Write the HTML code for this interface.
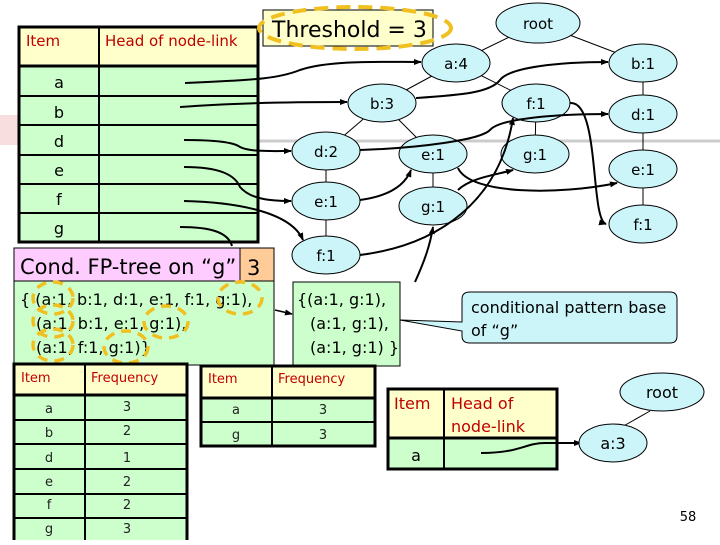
<!DOCTYPE html>
<html><head><meta charset="utf-8"><style>
body{margin:0;background:#fff}
svg text{font-family:"DejaVu Sans","Liberation Sans",sans-serif}
</style></head><body>
<svg width="720" height="540" viewBox="0 0 720 540" xmlns="http://www.w3.org/2000/svg">
<defs><marker id="ar" markerWidth="8" markerHeight="8" refX="7" refY="4" orient="auto" markerUnits="userSpaceOnUse"><path d="M0,1 L8,4 L0,7z" fill="#000"/></marker></defs>
<rect x="0" y="115" width="22" height="30" fill="#f4c8c8" opacity="0.6"/>
<line x1="258" y1="141" x2="720" y2="141" stroke="#ccc" stroke-width="3"/>
<!-- main table -->
<g stroke="#000" stroke-width="3">
<rect x="19" y="27" width="239" height="39" fill="#ffffcc"/>
<rect x="19" y="66" width="239" height="176" fill="#ccffcc"/>
</g>
<g stroke="#000" stroke-width="2">
<line x1="99" y1="27" x2="99" y2="242"/>
<line x1="19" y1="96" x2="258" y2="96"/><line x1="19" y1="125" x2="258" y2="125"/>
<line x1="19" y1="155" x2="258" y2="155"/><line x1="19" y1="184" x2="258" y2="184"/>
<line x1="19" y1="213" x2="258" y2="213"/>
</g>
<g font-size="15" fill="#c00000"><text x="26" y="46">Item</text><text x="105" y="46">Head of node-link</text></g>
<g font-size="16" text-anchor="middle"><text x="59" y="88">a</text><text x="59" y="118">b</text><text x="59" y="147">d</text><text x="59" y="176">e</text><text x="59" y="205">f</text><text x="59" y="234">g</text></g>
<!-- threshold -->
<rect x="263" y="10" width="170" height="36" fill="#ffffcc" stroke="#000"/>
<text x="272" y="37" font-size="22">Threshold = 3</text>
<ellipse cx="355" cy="28" rx="96" ry="21" fill="none" stroke="#f0c020" stroke-width="4" stroke-dasharray="14 8"/>
<!-- tree edges -->
<g stroke="#000" stroke-width="1" fill="none">
<path d="M538,23 L456,63 M538,23 L643,63 M456,63 L382,103 M456,63 L536,103 M382,103 L326,151 M382,103 L433,154 M326,151 L326,255 M433,154 L433,206 M536,103 L535,154 M643,63 L643,224"/>
</g>
<!-- nodes -->
<g fill="#ccf5fa" stroke="#000" stroke-width="1">
<ellipse cx="538" cy="23" rx="42" ry="20"/>
<ellipse cx="456" cy="63" rx="34" ry="19"/><ellipse cx="643" cy="63" rx="34" ry="19"/>
<ellipse cx="382" cy="103" rx="34" ry="19"/><ellipse cx="536" cy="103" rx="34" ry="19"/>
<ellipse cx="643" cy="114" rx="34" ry="19"/><ellipse cx="326" cy="151" rx="34" ry="19"/>
<ellipse cx="433" cy="154" rx="34" ry="19"/><ellipse cx="535" cy="154" rx="34" ry="19"/>
<ellipse cx="643" cy="169" rx="34" ry="19"/><ellipse cx="326" cy="201" rx="34" ry="19"/>
<ellipse cx="433" cy="206" rx="34" ry="19"/><ellipse cx="643" cy="224" rx="34" ry="19"/>
<ellipse cx="326" cy="255" rx="34" ry="19"/>
</g>
<g font-size="15" text-anchor="middle">
<text x="538" y="29">root</text><text x="456" y="69">a:4</text><text x="643" y="69">b:1</text>
<text x="382" y="109">b:3</text><text x="536" y="109">f:1</text><text x="643" y="120">d:1</text>
<text x="326" y="157">d:2</text><text x="433" y="160">e:1</text><text x="535" y="160">g:1</text>
<text x="643" y="175">e:1</text><text x="326" y="207">e:1</text><text x="433" y="212">g:1</text>
<text x="643" y="230">f:1</text><text x="326" y="261">f:1</text>
</g>
<!-- node links -->
<g stroke="#000" stroke-width="2" fill="none" marker-end="url(#ar)">
<path d="M185,83 C260,80 280,78 300,70 C330,60 380,62 421,62"/>
<path d="M180,107 C230,103 300,102 347,102"/>
<path d="M184,140 C220,140 235,143 240,147 C250,152 270,151 291,151"/>
<path d="M184,167 C220,167 235,175 240,187 C250,199 270,201 291,201"/>
<path d="M184,201 C230,202 290,210 303,240"/>
<path d="M416,98 C460,95 490,93 500,80 C510,67 560,62 608,62"/>
<path d="M360,150 C420,148 480,140 490,130 C500,118 560,114 608,114"/>
<path d="M360,200 C390,196 405,185 411,170"/>
<path d="M360,255 C440,245 500,200 513,118"/>
<path d="M458,168 C470,195 560,195 617,183"/>
<path d="M458,190 C470,178 495,175 513,170"/>
<path d="M570,103 C600,100 590,220 606,224"/>
<path d="M415,282 C425,260 430,245 433,227"/>
</g>
<path d="M180,227 C210,227 228,232 232,246" stroke="#000" stroke-width="2" fill="none"/>
<!-- cond fp tree -->
<rect x="14" y="248" width="226" height="33" fill="#ffccff" stroke="#000"/>
<rect x="240" y="248" width="34" height="33" fill="#ffcc99" stroke="#000"/>
<text x="20" y="274" font-size="21">Cond. FP-tree on “g”</text>
<text x="247" y="275" font-size="21">3</text>
<rect x="14" y="281" width="260" height="84" fill="#ccffcc" stroke="#000"/>
<g font-size="16"><text x="20" y="305">{ (a:1, b:1, d:1, e:1, f:1, g:1),</text>
<text x="36" y="329">(a:1, b:1, e:1, g:1),</text>
<text x="36" y="353">(a:1, f:1, g:1)}</text></g>
<path d="M275,310 L292,314" stroke="#000" stroke-width="1.5" marker-end="url(#ar)"/>
<rect x="293" y="282" width="107" height="84" fill="#ccffcc" stroke="#000"/>
<g font-size="16"><text x="297" y="305">{(a:1, g:1),</text><text x="310" y="329">(a:1, g:1),</text><text x="310" y="353">(a:1, g:1) }</text></g>
<g fill="none" stroke="#f0c020" stroke-width="3.5" stroke-dasharray="10 7">
<ellipse cx="53" cy="298" rx="20" ry="16"/><ellipse cx="53" cy="321" rx="20" ry="16"/><ellipse cx="53" cy="345" rx="20" ry="16"/>
<ellipse cx="240" cy="298" rx="22" ry="16"/><ellipse cx="166" cy="322" rx="22" ry="16"/><ellipse cx="126" cy="347" rx="22" ry="16"/>
<ellipse cx="127" cy="407" rx="22" ry="16"/><ellipse cx="127" cy="528" rx="22" ry="16"/>
</g>
<!-- callout -->
<path d="M470,292 H670 Q677,292 677,299 V336 Q677,343 670,343 H470 Q462,343 462,336 V331 L400,320 L462,322 V299 Q462,292 470,292z" fill="#ccf5fa" stroke="#000"/>
<g font-size="16"><text x="471" y="313">conditional pattern base</text><text x="471" y="336">of “g”</text></g>
<!-- bottom left table -->
<g stroke="#000" stroke-width="3"><rect x="14" y="364" width="173" height="31" fill="#ffffcc"/><rect x="14" y="395" width="173" height="150" fill="#ccffcc"/></g>
<g stroke="#000" stroke-width="2"><line x1="85" y1="364" x2="85" y2="540"/>
<line x1="14" y1="420" x2="187" y2="420"/><line x1="14" y1="444" x2="187" y2="444"/><line x1="14" y1="469" x2="187" y2="469"/><line x1="14" y1="494" x2="187" y2="494"/><line x1="14" y1="518" x2="187" y2="518"/></g>
<g font-size="13" fill="#c00000"><text x="21" y="382">Item</text><text x="91" y="382">Frequency</text></g>
<g font-size="13" text-anchor="middle" fill="#222"><text x="49" y="413">a</text><text x="49" y="437">b</text><text x="49" y="462">d</text><text x="49" y="486">e</text><text x="49" y="509">f</text><text x="49" y="533">g</text>
<text x="127" y="411">3</text><text x="127" y="435">2</text><text x="127" y="462">1</text><text x="127" y="486">2</text><text x="127" y="509">2</text><text x="127" y="533">3</text></g>
<!-- second table -->
<g stroke="#000" stroke-width="3"><rect x="201" y="366" width="174" height="32" fill="#ffffcc"/><rect x="201" y="398" width="174" height="48" fill="#ccffcc"/></g>
<g stroke="#000" stroke-width="2"><line x1="272" y1="366" x2="272" y2="446"/><line x1="201" y1="422" x2="375" y2="422"/></g>
<g font-size="13" fill="#c00000"><text x="208" y="383">Item</text><text x="278" y="383">Frequency</text></g>
<g font-size="13" text-anchor="middle" fill="#222"><text x="236" y="414">a</text><text x="323" y="414">3</text><text x="236" y="439">g</text><text x="323" y="439">3</text></g>
<!-- third table -->
<g stroke="#000" stroke-width="3"><rect x="388" y="389" width="169" height="49" fill="#ffffcc"/><rect x="388" y="438" width="169" height="31" fill="#ccffcc"/></g>
<line x1="444" y1="389" x2="444" y2="469" stroke="#000" stroke-width="2"/>
<g font-size="16" fill="#c00000"><text x="394" y="409">Item</text><text x="451" y="409">Head of</text><text x="451" y="432">node-link</text></g>
<text x="416" y="461" font-size="16" text-anchor="middle">a</text>
<path d="M481,453 C520,453 525,443 545,443 L581,443" stroke="#000" stroke-width="2" fill="none" marker-end="url(#ar)"/>
<line x1="650" y1="411" x2="620" y2="428" stroke="#000"/>
<ellipse cx="662" cy="392" rx="42" ry="19" fill="#ccf5fa" stroke="#000"/>
<ellipse cx="613" cy="443" rx="34" ry="19" fill="#ccf5fa" stroke="#000"/>
<g font-size="16" text-anchor="middle"><text x="662" y="398">root</text><text x="613" y="449">a:3</text></g>
<text x="688" y="521" font-size="13" text-anchor="middle">58</text>
</svg>
</body></html>
